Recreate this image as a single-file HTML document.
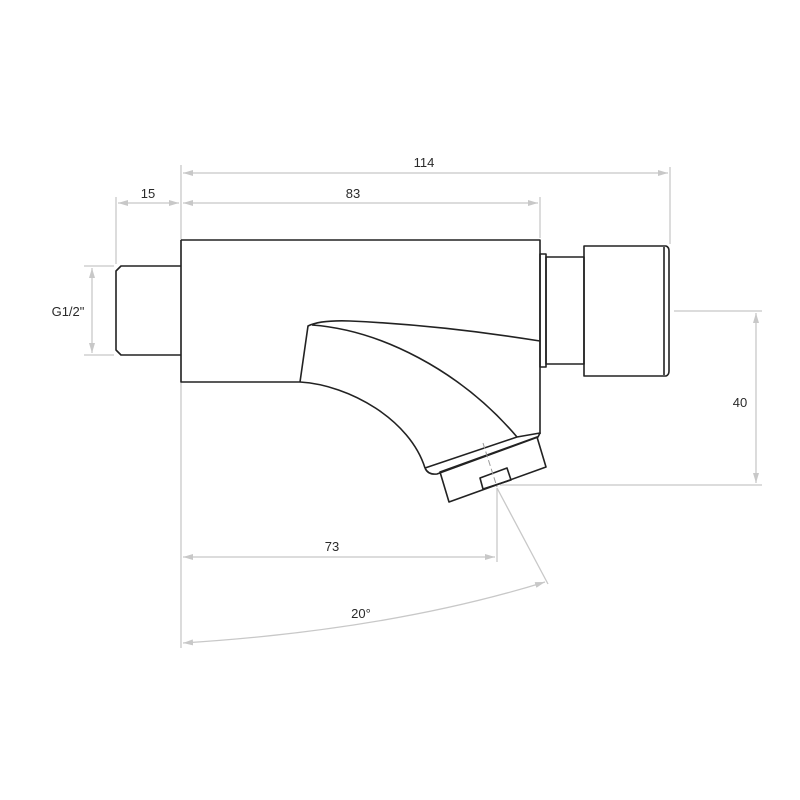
<!DOCTYPE html>
<html><head><meta charset="utf-8"><style>body{margin:0;background:#fff}svg{display:block}text{font-family:"Liberation Sans",sans-serif;font-size:13px;fill:#2a2a2a}</style></head><body>
<svg width="800" height="800" viewBox="0 0 800 800">
<defs><marker id="a" viewBox="0 0 10 6" refX="10" refY="3" markerWidth="10" markerHeight="6" orient="auto-start-reverse" markerUnits="userSpaceOnUse"><path d="M0,0L10,3L0,6z" fill="#c8c8c8"/></marker></defs>
<g stroke="#c8c8c8" stroke-width="1.3" fill="none">
<line x1="181" y1="165" x2="181" y2="648"/>
<line x1="116" y1="197" x2="116" y2="264"/>
<line x1="540" y1="197" x2="540" y2="238"/>
<line x1="670" y1="167" x2="670" y2="244"/>
<line x1="84" y1="266" x2="114" y2="266"/>
<line x1="84" y1="355" x2="114" y2="355"/>
<line x1="674" y1="311" x2="762" y2="311"/>
<line x1="500" y1="485" x2="762" y2="485"/>
<line x1="497" y1="488" x2="497" y2="562"/>
<line x1="497" y1="488" x2="548" y2="584"/>
<line x1="183" y1="173" x2="668" y2="173" marker-start="url(#a)" marker-end="url(#a)"/>
<line x1="183" y1="203" x2="538" y2="203" marker-start="url(#a)" marker-end="url(#a)"/>
<line x1="118" y1="203" x2="179" y2="203" marker-start="url(#a)" marker-end="url(#a)"/>
<line x1="92" y1="268" x2="92" y2="353" marker-start="url(#a)" marker-end="url(#a)"/>
<line x1="756" y1="313" x2="756" y2="483" marker-start="url(#a)" marker-end="url(#a)"/>
<line x1="183" y1="557" x2="495" y2="557" marker-start="url(#a)" marker-end="url(#a)"/>
<path d="M183,643 Q390,630 545,582" marker-start="url(#a)" marker-end="url(#a)"/>
</g>
<g stroke="#222" stroke-width="1.6" fill="none" stroke-linejoin="round">
<path d="M181,266 L121,266 L116,271 L116,350 L121,355 L181,355"/>
<path d="M181,240 L540,240 L540,434"/>
<path d="M181,240 L181,382 L300,382"/>
<rect x="540" y="254" width="6" height="113"/>
<rect x="546" y="257" width="38" height="107"/>
<path d="M584,246 L666,246 Q669,247 669,251 L669,371 Q669,375 666,376 L584,376 Z"/>
<line x1="664" y1="247" x2="664" y2="375"/>
<path d="M300,382 L308,326 Q320,320 350,321 Q440,325 540,341"/>
<path d="M312,325 C380,330 460,370 517,437"/>
<path d="M300,382 C350,385 410,420 425,468"/>
<path d="M425,468 L517,437 L540,433 L538,437 L437,474 Q428,475 425,468"/>
<path d="M440,472 L537,437 L546,467 L449,502 Z"/>
<path d="M480,478 L507,468 L511,480 L483,489 Z"/>
</g>
<line x1="483" y1="443" x2="497" y2="487" stroke="#999" stroke-width="1" stroke-dasharray="6,3"/>
<text x="424" y="167" text-anchor="middle">114</text>
<text x="353" y="198" text-anchor="middle">83</text>
<text x="148" y="198" text-anchor="middle">15</text>
<text x="68" y="316" text-anchor="middle">G1/2"</text>
<text x="740" y="407" text-anchor="middle">40</text>
<text x="332" y="551" text-anchor="middle">73</text>
<text x="361" y="618" text-anchor="middle">20°</text>
</svg>
</body></html>
